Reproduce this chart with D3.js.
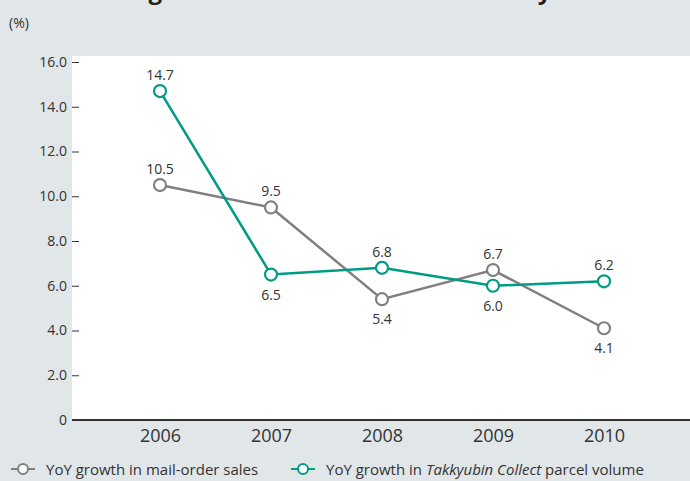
<!DOCTYPE html>
<html>
<head>
<meta charset="utf-8">
<script src="https://cdn.jsdelivr.net/npm/d3@7"></script>
<style>
  html, body { margin: 0; padding: 0; background: #e1e6e9; }
  svg { display: block; font-family: "Open Sans", "Noto Sans", sans-serif; }
</style>
</head>
<body>
<svg id="chart" width="690" height="481"></svg>
<script>
// Fiscal years on the x axis
const years = ["2006", "2007", "2008", "2009", "2010"];
// YoY growth in mail-order sales (%)
const mailOrderGrowth = [10.5, 9.5, 5.4, 6.7, 4.1];
// YoY growth in Takkyubin Collect parcel volume (%)
const collectGrowth = [14.7, 6.5, 6.8, 6.0, 6.2];
// Label placement for each point: above or below the marker
const mailOrderLabelPos = ["above", "above", "below", "above", "below"];
const collectLabelPos = ["above", "below", "above", "below", "above"];
// Y axis ticks
const yTicks = [0, 2, 4, 6, 8, 10, 12, 14, 16];

const GRAY = "#808080";
const TEAL = "#009b85";
const TEXT = "#333333";

const svg = d3.select("#chart");
const plot = { left: 72, right: 690, top: 56, bottom: 420 };

// Title (runs above the top edge of the page)
svg.append("text")
  .attr("x", 31).attr("y", -1)
  .attr("font-size", 24).attr("font-weight", "bold")
  .attr("fill", "#222")
  .text("Trends in growth of the mail-order industry");

// Unit label
svg.append("text")
  .attr("x", 9).attr("y", 28)
  .attr("font-size", 14).attr("fill", TEXT)
  .text("(%)");

// Plot background
svg.append("rect")
  .attr("x", plot.left).attr("y", plot.top)
  .attr("width", plot.right - plot.left).attr("height", plot.bottom - plot.top)
  .attr("fill", "#ffffff");

const x = d3.scalePoint().domain(years).range([160, 604]);
const y = d3.scaleLinear().domain([0, 16]).range([plot.bottom, 62]);

// Y axis: short ticks inside the plot, labels to the left
const yAxis = d3.axisRight(y)
  .tickValues(yTicks)
  .tickSize(7)
  .tickFormat(d => d === 0 ? "0" : d3.format(".1f")(d));
const gy = svg.append("g").attr("transform", `translate(${plot.left},0)`).call(yAxis);
gy.select(".domain").remove();
gy.selectAll(".tick line").attr("stroke", "#333").attr("stroke-width", 1);
gy.selectAll(".tick text")
  .attr("x", -5).attr("text-anchor", "end")
  .attr("font-size", 14).attr("fill", TEXT)
  .attr("font-family", "Open Sans, sans-serif");

// X axis baseline and year labels
const xAxis = d3.axisBottom(x).tickSize(0).tickPadding(9);
const gx = svg.append("g").attr("transform", `translate(0,${plot.bottom})`).call(xAxis);
gx.select(".domain").remove();
gx.selectAll(".tick text")
  .attr("font-size", 18).attr("fill", TEXT)
  .attr("font-family", "Open Sans, sans-serif");
svg.append("line")
  .attr("x1", plot.left).attr("x2", plot.right)
  .attr("y1", plot.bottom).attr("y2", plot.bottom)
  .attr("stroke", "#333").attr("stroke-width", 2);

const line = d3.line().x((d, i) => x(years[i])).y(d => y(d));

function drawSeries(values, color, labelPos) {
  svg.append("path")
    .datum(values)
    .attr("d", line)
    .attr("fill", "none")
    .attr("stroke", color)
    .attr("stroke-width", 2.5);
  svg.append("g").selectAll("circle")
    .data(values).join("circle")
    .attr("cx", (d, i) => x(years[i]))
    .attr("cy", d => y(d))
    .attr("r", 6)
    .attr("fill", "#fff")
    .attr("stroke", color)
    .attr("stroke-width", 2.2);
  svg.append("g").selectAll("text")
    .data(values).join("text")
    .attr("x", (d, i) => x(years[i]))
    .attr("y", (d, i) => labelPos[i] === "above" ? y(d) - 11 : y(d) + 25)
    .attr("text-anchor", "middle")
    .attr("font-size", 14)
    .attr("fill", TEXT)
    .text(d => d3.format(".1f")(d));
}

drawSeries(mailOrderGrowth, GRAY, mailOrderLabelPos);
drawSeries(collectGrowth, TEAL, collectLabelPos);

// Legend
function legendItem(x0, color) {
  const g = svg.append("g").attr("transform", `translate(${x0},469)`);
  g.append("line").attr("x1", 0).attr("x2", 24).attr("y1", 0).attr("y2", 0)
    .attr("stroke", color).attr("stroke-width", 2);
  g.append("circle").attr("cx", 12).attr("cy", 0).attr("r", 5)
    .attr("fill", "#fff").attr("stroke", color).attr("stroke-width", 2);
  return g;
}
legendItem(11, GRAY);
svg.append("text")
  .attr("x", 46).attr("y", 475)
  .attr("font-size", 15).attr("fill", TEXT)
  .text("YoY growth in mail-order sales");

legendItem(291, TEAL);
const t2 = svg.append("text")
  .attr("x", 326).attr("y", 475)
  .attr("font-size", 15).attr("fill", TEXT);
t2.append("tspan").text("YoY growth in ");
t2.append("tspan").attr("font-style", "italic").text("Takkyubin Collect");
t2.append("tspan").text(" parcel volume");
</script>
</body>
</html>
